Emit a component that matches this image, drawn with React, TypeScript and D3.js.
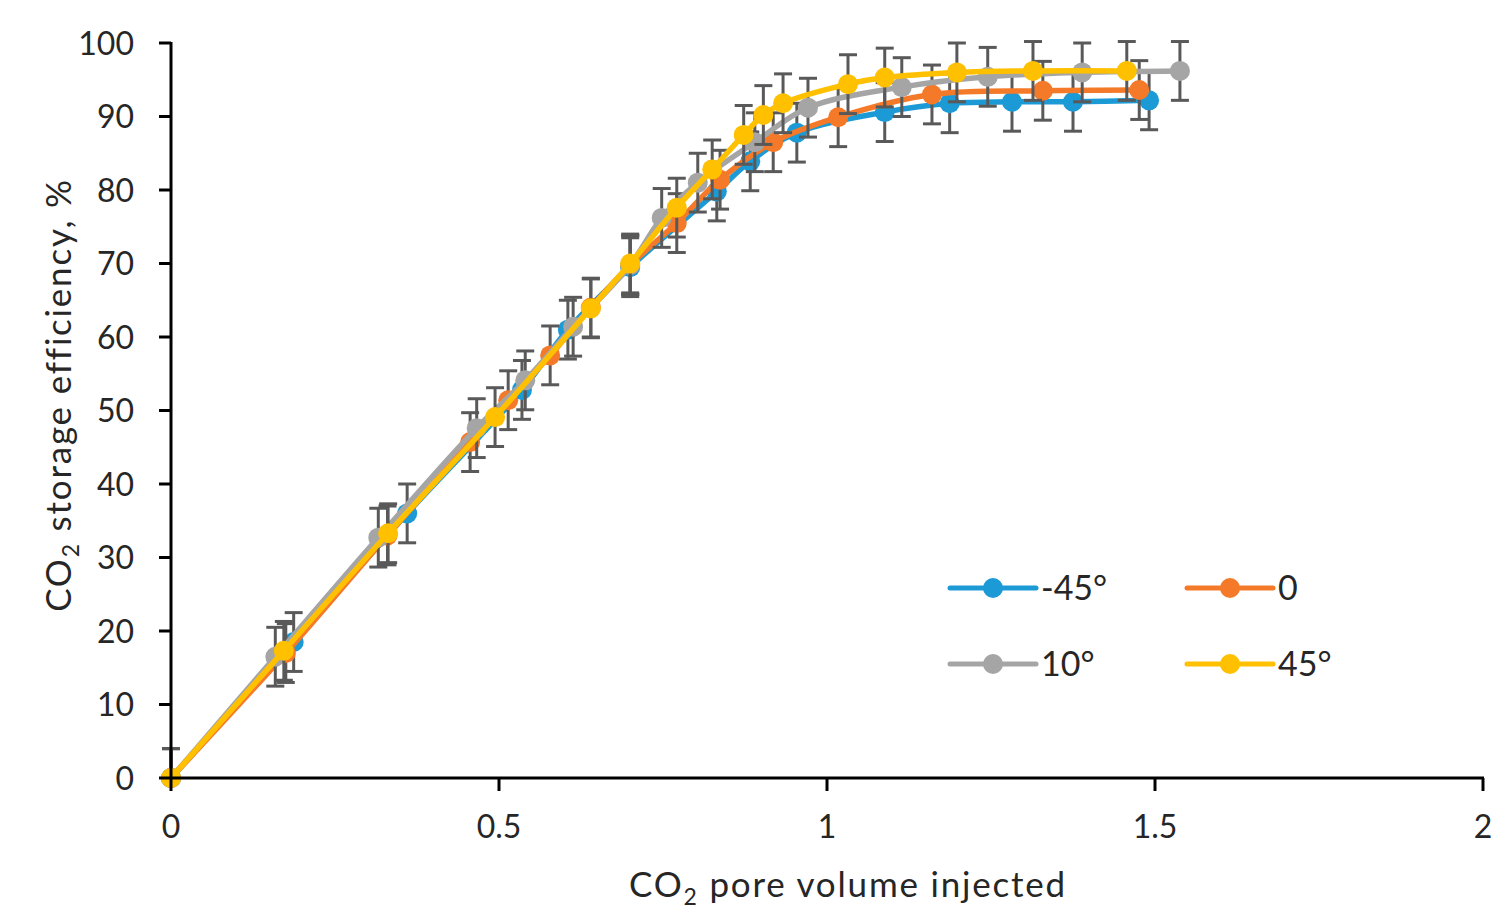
import * as d3 from 'd3';

// Series data
const blueX = [0, 0.187, 0.36, 0.535, 0.605, 0.7, 0.832, 0.883, 0.954, 1.088, 1.187, 1.282, 1.375, 1.491];
const blueY = [0, 18.5, 36.0, 52.8, 61.0, 69.5, 79.8, 83.9, 87.8, 90.6, 91.8, 92.0, 92.0, 92.2];

const orangeX = [0, 0.175, 0.33, 0.456, 0.514, 0.578, 0.64, 0.7, 0.771, 0.837, 0.918, 1.017, 1.16, 1.329, 1.476];
const orangeY = [0, 17.0, 33.0, 45.7, 51.4, 57.5, 64.0, 69.8, 75.5, 81.4, 86.5, 89.9, 93.0, 93.5, 93.6];

const grayX = [0, 0.159, 0.316, 0.466, 0.54, 0.613, 0.7, 0.748, 0.803, 0.89, 0.971, 1.114, 1.245, 1.389, 1.538];
const grayY = [0, 16.5, 32.7, 47.6, 54.1, 61.4, 69.8, 76.2, 81.0, 86.5, 91.2, 94.0, 95.4, 96.0, 96.2];

const yellowX = [0, 0.172, 0.331, 0.494, 0.64, 0.7, 0.771, 0.825, 0.873, 0.903, 0.933, 1.032, 1.088, 1.198, 1.314, 1.457];
const yellowY = [0, 17.3, 33.3, 49.1, 63.9, 70.0, 77.6, 82.8, 87.5, 90.2, 91.8, 94.4, 95.3, 96.0, 96.2, 96.2];

const errorSize = 4;

const seriesNames = ['-45°', '0', '10°', '45°'];
const seriesColors = ['#1c9ad6', '#f47a2a', '#a5a5a5', '#ffc000'];

const xTicks = [0, 0.5, 1, 1.5, 2];
const yTicks = [0, 10, 20, 30, 40, 50, 60, 70, 80, 90, 100];

const series = [
  { name: seriesNames[0], color: seriesColors[0], pts: blueX.map((x, i) => [x, blueY[i]]) },
  { name: seriesNames[1], color: seriesColors[1], pts: orangeX.map((x, i) => [x, orangeY[i]]) },
  { name: seriesNames[2], color: seriesColors[2], pts: grayX.map((x, i) => [x, grayY[i]]) },
  { name: seriesNames[3], color: seriesColors[3], pts: yellowX.map((x, i) => [x, yellowY[i]]) },
];

const W = 1508;
const H = 921;
const FONT = 'Lato, "Open Sans", sans-serif';
const TEXT = '#262626';

export default function App() {
  const x = d3.scaleLinear().domain([0, 2]).range([171, 1483]);
  const y = d3.scaleLinear().domain([0, 100]).range([778, 43]);

  const line = d3
    .line<number[]>()
    .x(d => x(d[0]))
    .y(d => y(d[1]))
    .curve(d3.curveCatmullRom.alpha(0.5));

  const legendPos = [
    { lx: 950, ly: 588 },
    { lx: 1187, ly: 588 },
    { lx: 950, ly: 664 },
    { lx: 1187, ly: 664 },
  ];

  return (
    <svg
      width={W}
      height={H}
      style={{ position: 'absolute', left: 0, top: 0, background: '#fff' }}
      fontFamily={FONT}
    >
      {/* series: error bars, line, markers */}
      {series.map(s => (
        <g key={s.name}>
          {s.pts.map((p, i) => (
            <g key={i} stroke="#595959" strokeWidth={3}>
              <line x1={x(p[0])} x2={x(p[0])} y1={y(p[1] + errorSize)} y2={y(Math.max(0, p[1] - errorSize))} />
              <line x1={x(p[0]) - 9} x2={x(p[0]) + 9} y1={y(p[1] + errorSize)} y2={y(p[1] + errorSize)} />
              {p[1] - errorSize >= 0 ? (
                <line x1={x(p[0]) - 9} x2={x(p[0]) + 9} y1={y(p[1] - errorSize)} y2={y(p[1] - errorSize)} />
              ) : null}
            </g>
          ))}
          <path d={line(s.pts) || ''} fill="none" stroke={s.color} strokeWidth={5.5} strokeLinejoin="round" />
          {s.pts.map((p, i) => (
            <circle key={i} cx={x(p[0])} cy={y(p[1])} r={10} fill={s.color} />
          ))}
        </g>
      ))}

      {/* axes */}
      <g stroke="#000" strokeWidth={3}>
        <line x1={x(0)} x2={x(0)} y1={y(100) - 1} y2={y(0)} />
        <line x1={x(0)} x2={x(2) + 1} y1={y(0)} y2={y(0)} />
        {yTicks.map(t => (
          <line key={t} x1={x(0) - 12} x2={x(0)} y1={y(t)} y2={y(t)} />
        ))}
        {xTicks.map(t => (
          <line key={t} x1={x(t)} x2={x(t)} y1={y(0)} y2={y(0) + 13} />
        ))}
      </g>
      {yTicks.map(t => (
        <text key={t} x={134} y={y(t)} dy="0.36em" textAnchor="end" fontSize={32} fill={TEXT}>
          {t}
        </text>
      ))}
      {xTicks.map(t => (
        <text key={t} x={x(t)} y={838} textAnchor="middle" fontSize={32} fill={TEXT}>
          {t}
        </text>
      ))}

      {/* axis titles */}
      <text x={848} y={897} textAnchor="middle" fontSize={35} letterSpacing={1.8} fill={TEXT}>
        CO<tspan fontSize={23} dy={8}>2</tspan>
        <tspan dy={-8}> pore volume injected</tspan>
      </text>
      <text
        transform="translate(71,395) rotate(-90)"
        textAnchor="middle"
        fontSize={35}
        letterSpacing={1.8}
        fill={TEXT}
      >
        CO<tspan fontSize={23} dy={8}>2</tspan>
        <tspan dy={-8}> storage efficiency, %</tspan>
      </text>

      {/* legend */}
      {series.map((s, i) => {
        const { lx, ly } = legendPos[i];
        return (
          <g key={s.name}>
            <line x1={lx} x2={lx + 86} y1={ly} y2={ly} stroke={s.color} strokeWidth={5} strokeLinecap="round" />
            <circle cx={lx + 43} cy={ly} r={10} fill={s.color} />
            <text x={lx + 91} y={ly} dy="0.36em" fontSize={34} fill={TEXT}>
              {s.name}
            </text>
          </g>
        );
      })}
    </svg>
  );
}
